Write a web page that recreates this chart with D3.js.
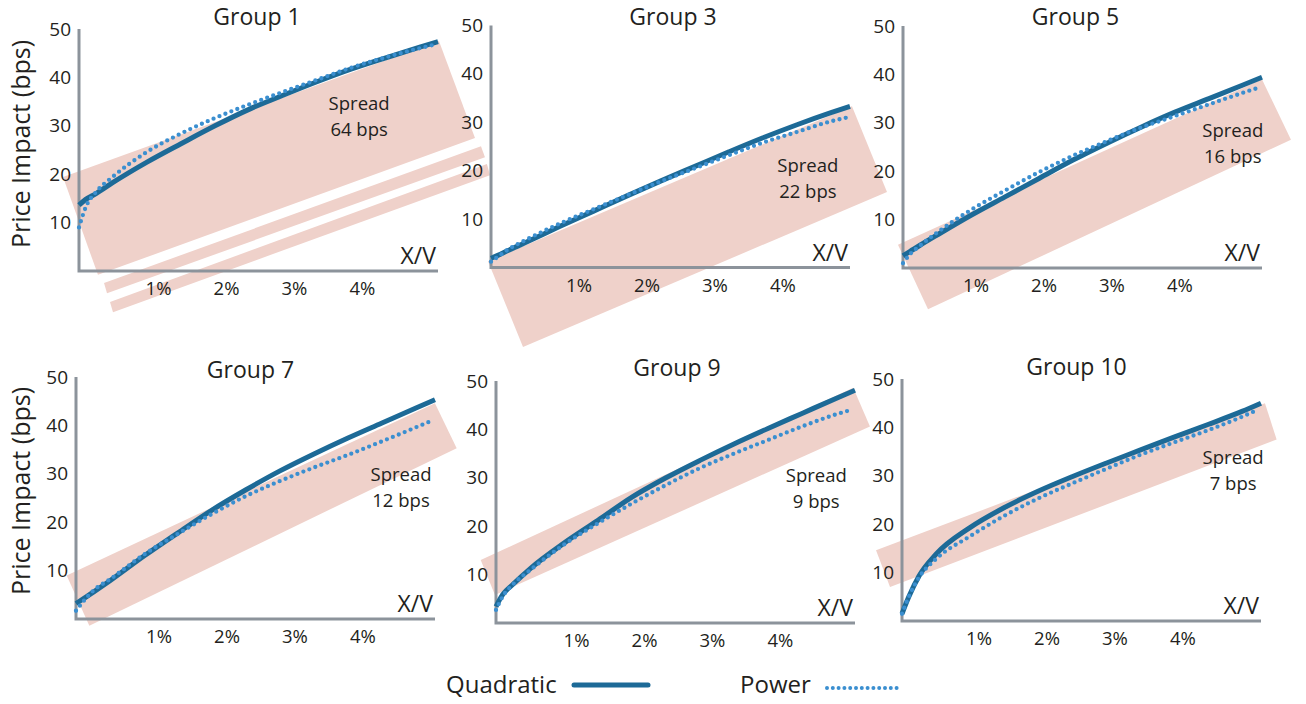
<!DOCTYPE html>
<html>
<head>
<meta charset="utf-8">
<script src="https://cdnjs.cloudflare.com/ajax/libs/d3/7.8.5/d3.min.js"></script>
<style>
  body { margin: 0; background: #fff; }
  svg text { font-family: "Open Sans", sans-serif; fill: #231f20; }
</style>
</head>
<body>
<div id="chart"></div>
<script>
// ---- data (x in % of volume, y in bps) ----
var groups  = ["Group 1", "Group 3", "Group 5", "Group 7", "Group 9", "Group 10"];
var spreads = [64, 22, 16, 12, 9, 7];
var xTicks  = [1, 2, 3, 4];
var yTicks  = [10, 20, 30, 40, 50];

var quadX  = [0, 0.1, 0.25, 0.5, 1, 1.5, 2, 2.5, 3, 3.5, 4, 4.5, 5, 5.28];
var quadY  = [
  [13.6, 14.8, 16.0, 18.3, 22.5, 26.3, 30.0, 33.4, 36.3, 39.1, 41.7, 44.0, 46.2, 47.4],
  [1.9, 2.5, 3.5, 5.1, 8.4, 11.6, 14.8, 17.9, 20.9, 23.9, 26.8, 29.5, 32.0, 33.3],
  [2.5, 3.4, 4.7, 6.8, 10.9, 14.7, 18.5, 22.3, 25.8, 29.1, 32.2, 35.0, 37.8, 39.4],
  [3.2, 4.1, 5.5, 7.9, 13.0, 17.8, 22.5, 26.7, 30.6, 34.1, 37.4, 40.5, 43.6, 45.3],
  [3.4, 5.9, 8.0, 11.2, 16.5, 21.2, 26.0, 30.0, 33.6, 37.0, 40.2, 43.3, 46.4, 48.1],
  [1.5, 5.0, 9.3, 13.8, 19.3, 23.4, 26.8, 29.8, 32.6, 35.3, 38.0, 40.6, 43.3, 45.0]
];

var powerX = [0, 0.1, 0.25, 0.5, 1, 1.5, 2, 2.5, 3, 3.5, 4, 4.5, 5, 5.24];
var powerY = [
  [9.0, 13.2, 16.3, 19.5, 24.6, 28.4, 31.6, 34.4, 37.0, 39.5, 42.0, 44.1, 46.0, 46.8],
  [1.2, 2.2, 3.7, 5.6, 9.0, 12.0, 14.9, 17.8, 20.5, 23.2, 25.8, 28.0, 30.2, 31.0],
  [1.0, 2.8, 4.6, 7.3, 12.0, 16.0, 19.8, 23.2, 26.2, 29.0, 31.4, 33.8, 36.2, 37.3],
  [1.7, 3.5, 5.8, 8.2, 13.3, 17.6, 21.7, 25.4, 28.5, 31.3, 33.9, 36.7, 39.6, 41.0],
  [2.7, 5.5, 8.0, 10.9, 16.2, 20.6, 24.7, 28.5, 32.0, 35.0, 37.8, 40.6, 43.1, 44.1],
  [1.5, 5.0, 9.0, 12.8, 17.5, 21.7, 25.3, 28.4, 31.4, 34.3, 36.9, 39.4, 42.2, 43.7]
];

// shaded spread bands, corners in data units
var bands = [
  [
    [[-0.235, 19.4], [5.294, 47.5], [5.824, 27.5], [0.279, -0.8]],
    [[0.368, -2.5], [5.912, 25.8], [5.971, 23.5], [0.412, -4.6]],
    [[0.456, -6.4], [6.0, 22.1], [6.044, 19.8], [0.5, -8.5]]
  ],
  [[[-0.044, 1.3], [5.309, 33.3], [5.824, 15.6], [0.471, -16.4]]],
  [[[-0.074, 4.8], [5.279, 39.0], [5.706, 26.5], [0.368, -8.5]]],
  [[[-0.137, 9.0], [5.279, 44.6], [5.599, 35.3], [0.196, -1.4]]],
  [[[-0.225, 13.0], [5.254, 48.6], [5.5, 40.6], [-0.015, 5.8]]],
  [[[-0.382, 14.6], [5.338, 45.0], [5.51, 37.5], [-0.176, 7.0]]]
];

var spreadX = [4.12, 4.66, 4.85, 4.78, 4.71, 4.87];
var spreadY = [33.3, 19.7, 27.1, 28.5, 29.2, 32.4];

// ---- layout ----
var W = 1306, H = 704;
var xMax = 5.28, yMax = 50;
var plotW = 359, plotH = 242;
var panels = [
  { ox: 79,  oy: 271,   labelDx: 11,   titleDx: -1.5, titleY: 25 },
  { ox: 491, oy: 267.5, labelDx: 19.5, titleDx: 2.5,  titleY: 25 },
  { ox: 903, oy: 268,   labelDx: 4.5,  titleDx: -7,   titleY: 25 },
  { ox: 76,  oy: 619,   labelDx: 14.5, titleDx: -5,   titleY: 378 },
  { ox: 496, oy: 623,   labelDx: 12,   titleDx: 1.5,  titleY: 376 },
  { ox: 902, oy: 621,   labelDx: 8.5,  titleDx: -5,   titleY: 375 }
];

var quadColor = "#1d6a97", powerColor = "#3b8fd0", bandColor = "#efd1ca", axisColor = "#8c939b";

var svg = d3.select("#chart").append("svg")
  .attr("width", W).attr("height", H)
  .style("display", "block");

svg.append("rect").attr("width", W).attr("height", H).attr("fill", "#fff");

var bandLayer = svg.append("g");
var mainLayer = svg.append("g");

panels.forEach(function(L, i) {
  var x = d3.scaleLinear().domain([0, xMax]).range([L.ox, L.ox + plotW]);
  var y = d3.scaleLinear().domain([0, yMax]).range([L.oy, L.oy - plotH]);

  // bands
  bandLayer.selectAll(null)
    .data(bands[i])
    .enter()
    .append("path")
    .attr("d", function(poly) {
      return d3.line().x(function(p){ return x(p[0]); }).y(function(p){ return y(p[1]); })(poly) + "Z";
    })
    .attr("fill", bandColor);

  var g = mainLayer.append("g");

  // axis lines (L shape)
  g.append("path")
    .attr("d", "M" + x(0) + "," + y(yMax) + "V" + y(0) + "H" + x(xMax))
    .attr("fill", "none")
    .attr("stroke", axisColor)
    .attr("stroke-width", 3);

  // tick labels
  var ya = g.append("g")
    .attr("transform", "translate(" + x(0) + ",0)")
    .call(d3.axisLeft(y).tickValues(yTicks).tickSize(0).tickPadding(8));
  ya.select(".domain").remove();
  ya.selectAll("text").style("font-size", "19px").style("font-family", "'Open Sans', sans-serif").attr("fill", "#231f20");

  var xa = g.append("g")
    .attr("transform", "translate(0," + y(0) + ")")
    .call(d3.axisBottom(x).tickValues(xTicks).tickSize(0).tickPadding(11)
      .tickFormat(function(d){ return d + "%"; }));
  xa.select(".domain").remove();
  xa.selectAll("text").attr("dx", L.labelDx)
    .style("font-size", "18.5px").style("font-family", "'Open Sans', sans-serif").attr("fill", "#231f20");

  // X/V label
  g.append("text")
    .attr("x", x(xMax) - 2)
    .attr("y", y(0) - 7)
    .attr("text-anchor", "end")
    .style("font-size", "23px")
    .text("X/V");

  // title
  g.append("text")
    .attr("x", (x(0) + x(xMax)) / 2 + L.titleDx)
    .attr("y", L.titleY)
    .attr("text-anchor", "middle")
    .style("font-size", "23px")
    .text(groups[i]);

  // lines
  var qData = quadX.map(function(v, k){ return [v, quadY[i][k]]; });
  var pData = powerX.map(function(v, k){ return [v, powerY[i][k]]; });
  var line = d3.line()
    .x(function(d){ return x(d[0]); })
    .y(function(d){ return y(d[1]); })
    .curve(d3.curveMonotoneX);

  g.append("path")
    .attr("d", line(qData))
    .attr("fill", "none")
    .attr("stroke", quadColor)
    .attr("stroke-width", 5);

  g.append("path")
    .attr("d", line(pData))
    .attr("fill", "none")
    .attr("stroke", powerColor)
    .attr("stroke-width", 4.3)
    .attr("stroke-linecap", "round")
    .attr("stroke-dasharray", "0,6.4");

  // spread annotation
  var st = g.append("text")
    .attr("x", x(spreadX[i]))
    .attr("y", y(spreadY[i]))
    .attr("text-anchor", "middle")
    .style("font-size", "18.5px");
  st.append("tspan").attr("x", x(spreadX[i])).text("Spread");
  st.append("tspan").attr("x", x(spreadX[i])).attr("dy", 26).text(spreads[i] + " bps");
});

// y axis titles
[144, 491].forEach(function(cy) {
  svg.append("text")
    .attr("transform", "translate(30," + cy + ") rotate(-90)")
    .attr("text-anchor", "middle")
    .style("font-size", "25px")
    .text("Price Impact (bps)");
});

// legend
var leg = svg.append("g");
leg.append("text").attr("x", 446).attr("y", 693).style("font-size", "24px").text("Quadratic");
leg.append("line").attr("x1", 574).attr("x2", 648).attr("y1", 685).attr("y2", 685)
  .attr("stroke", quadColor).attr("stroke-width", 5).attr("stroke-linecap", "round");
leg.append("text").attr("x", 740).attr("y", 693).style("font-size", "24px").text("Power");
leg.append("line").attr("x1", 827).attr("x2", 897).attr("y1", 688).attr("y2", 688)
  .attr("stroke", powerColor).attr("stroke-width", 4).attr("stroke-linecap", "round")
  .attr("stroke-dasharray", "0,5.8");
</script>
</body>
</html>
